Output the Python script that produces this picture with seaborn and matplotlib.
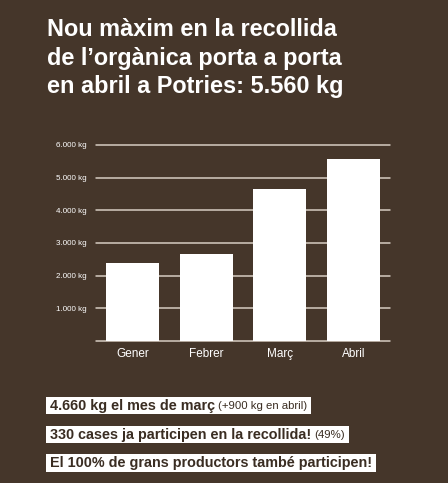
import matplotlib
matplotlib.use("Agg")
import matplotlib.pyplot as plt
import seaborn as sns
import pandas as pd
from matplotlib.patches import Rectangle

months = ["Gener", "Febrer", "Març", "Abril"]
kg = [2400, 2650, 4660, 5560]
yticks = [1000, 2000, 3000, 4000, 5000, 6000]
ytick_labels = ["1.000 kg", "2.000 kg", "3.000 kg", "4.000 kg", "5.000 kg", "6.000 kg"]
title_lines = ["Nou màxim en la recollida", "de l’orgànica porta a porta", "en abril a Potries: 5.560 kg"]
notes_bold = ["4.660 kg el mes de març", "330 cases ja participen en la recollida!", "El 100% de grans productors també participen!"]
notes_light = ["(+900 kg en abril)", "(49%)", ""]

BG = "#45362a"
DARK = "#3a2d22"
GRID = "#d6cdc2"

sns.set_theme(style="white")
plt.rcParams["font.family"] = ["Liberation Sans", "DejaVu Sans"]

W, H = 448, 483
fig = plt.figure(figsize=(W / 100, H / 100), dpi=100, facecolor=BG)

def fx(px):
    return px / W

def fy(py):
    return 1 - py / H

ax = fig.add_axes([fx(96), fy(341), fx(390) - fx(96), (341 - 145) / H])
ax.set_facecolor(BG)
df = pd.DataFrame({"mes": months, "kg": kg})
sns.barplot(data=df, x="mes", y="kg", color="white", saturation=1, width=0.72,
            ax=ax, zorder=3, edgecolor="none")
ax.set_ylim(0, 6000)
ax.set_xlim(-0.5, 3.5)
for v in [0] + yticks:
    ax.axhline(v, color=GRID, lw=1.1, zorder=1, clip_on=False)
ax.set_yticks(yticks)
ax.set_yticklabels(ytick_labels)
ax.tick_params(axis="y", length=0, pad=7, labelsize=5.8, labelcolor="white")
ax.tick_params(axis="x", length=0, pad=5, labelsize=8.5, labelcolor="white")
ax.set_xlabel("")
ax.set_ylabel("")
for s in ax.spines.values():
    s.set_visible(False)

# title
for i, line in enumerate(title_lines):
    fig.text(fx(47), fy(30 + i * 28.5), line, color="white", fontsize=16.9,
             fontweight="bold", va="center", ha="left")

# notes boxes
renderer = fig.canvas.get_renderer()
box_tops = [397, 426, 454]
box_bottoms = [414, 443, 472]
for i in range(3):
    yc = (box_tops[i] + box_bottoms[i]) / 2
    tb = fig.text(fx(50), fy(yc + 0.5), notes_bold[i], color=DARK, fontsize=10.4,
                  fontweight="bold", va="center", ha="left", zorder=5)
    ext = tb.get_window_extent(renderer)
    x_end = ext.x1
    if notes_light[i]:
        tl = fig.text((ext.x1 + 3) / W, fy(yc + 0.5), notes_light[i], color=DARK,
                      fontsize=8.2, va="center", ha="left", zorder=5)
        x_end = tl.get_window_extent(renderer).x1
    rect = Rectangle((fx(46), fy(box_bottoms[i])), (x_end + 4) / W - fx(46),
                     (box_bottoms[i] - box_tops[i]) / H, transform=fig.transFigure,
                     facecolor="white", edgecolor="none", zorder=1)
    fig.patches.append(rect)

fig.savefig("out.png", dpi=100, facecolor=BG)
